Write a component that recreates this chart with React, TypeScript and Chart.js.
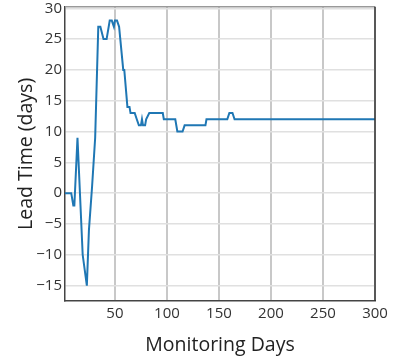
import React, { useEffect, useRef } from "react";
import { Chart, registerables } from "chart.js";

Chart.register(...registerables);

const days = [2, 8, 10, 11, 14, 19, 23, 25, 28, 31, 34, 36, 39, 42, 43, 45, 47, 49, 50, 52, 54, 58, 59, 62, 64, 65, 69, 71, 73, 75, 76, 77, 79, 80, 83, 96, 97, 108, 110, 115, 117, 137, 138, 158, 160, 163, 165, 300];
const leadTime = [0, 0, -2, -2, 9, -10, -15, -6, 1, 9, 27, 27, 25, 25, 26, 28, 28, 27, 28, 28, 27, 20, 20, 14, 14, 13, 13, 12, 11, 11, 12, 11, 11, 12, 13, 13, 12, 12, 10, 10, 11, 11, 12, 12, 13, 13, 12, 12];

const xTicks = [50, 100, 150, 200, 250, 300];
const yTicks = [-15, -10, -5, 0, 5, 10, 15, 20, 25, 30];

const xTitle = "Monitoring Days";
const yTitle = "Lead Time (days)";

const FONT = "'Open Sans', 'Noto Sans', sans-serif";

const frame = {
  id: "frame",
  afterDraw(chart: any) {
    const { ctx, chartArea } = chart;
    const { left, top, right, bottom } = chartArea;
    ctx.save();
    ctx.strokeStyle = "#999999";
    ctx.lineWidth = 1.5;
    ctx.beginPath();
    ctx.moveTo(left, top);
    ctx.lineTo(right, top);
    ctx.stroke();
    ctx.strokeStyle = "#333333";
    ctx.beginPath();
    ctx.moveTo(right, top);
    ctx.lineTo(right, bottom);
    ctx.stroke();
    ctx.restore();
  },
};

export default function App() {
  const ref = useRef<HTMLCanvasElement>(null);
  useEffect(() => {
    if (!ref.current) return;
    const chart = new Chart(ref.current, {
      type: "line",
      data: {
        datasets: [
          {
            data: days.map((d, i) => ({ x: d, y: leadTime[i] })),
            borderColor: "#1f77b4",
            borderWidth: 2,
            pointRadius: 0,
            tension: 0,
            fill: false,
          },
        ],
      },
      options: {
        responsive: false,
        animation: false,
        layout: { padding: { top: 5, right: 18, left: 0, bottom: 0 } },
        plugins: { legend: { display: false }, tooltip: { enabled: false } },
        scales: {
          x: {
            type: "linear",
            min: 2,
            max: 300,
            afterBuildTicks: (s: any) => {
              s.ticks = xTicks.map((v) => ({ value: v }));
            },
            afterFit: (s: any) => {
              s.height = 59;
            },
            grid: { color: "#c8c8c8", lineWidth: 2, drawTicks: false },
            border: { color: "#444444", width: 1.5 },
            ticks: {
              color: "#333333",
              font: { family: FONT, size: 15 },
              padding: 4,
              maxRotation: 0,
            },
            title: {
              display: true,
              text: xTitle,
              color: "#222222",
              font: { family: FONT, size: 19.5 },
              padding: { top: 0, bottom: 3 },
            },
          },
          y: {
            type: "linear",
            min: -17.5,
            max: 30.25,
            afterBuildTicks: (s: any) => {
              s.ticks = yTicks.map((v) => ({ value: v }));
            },
            afterFit: (s: any) => {
              s.width = 65;
            },
            grid: { color: "#e0e0e0", lineWidth: 1.5, drawTicks: false },
            border: { color: "#444444", width: 1.5 },
            ticks: {
              color: "#333333",
              font: { family: FONT, size: 15, lineHeight: 0.5 },
              padding: 3,
              callback: (v: any) => String(v).replace("-", "\u2212"),
            },
            title: {
              display: true,
              text: yTitle,
              color: "#222222",
              font: { family: FONT, size: 19.5 },
              padding: { top: 15, bottom: 0 },
            },
          },
        },
      },
      plugins: [frame],
    });
    return () => chart.destroy();
  }, []);
  return (
    <div style={{ position: "fixed", left: 0, top: 0, width: 393, height: 360, background: "#fff" }}>
      <canvas ref={ref} width={393} height={360} style={{ display: "block" }} />
    </div>
  );
}
